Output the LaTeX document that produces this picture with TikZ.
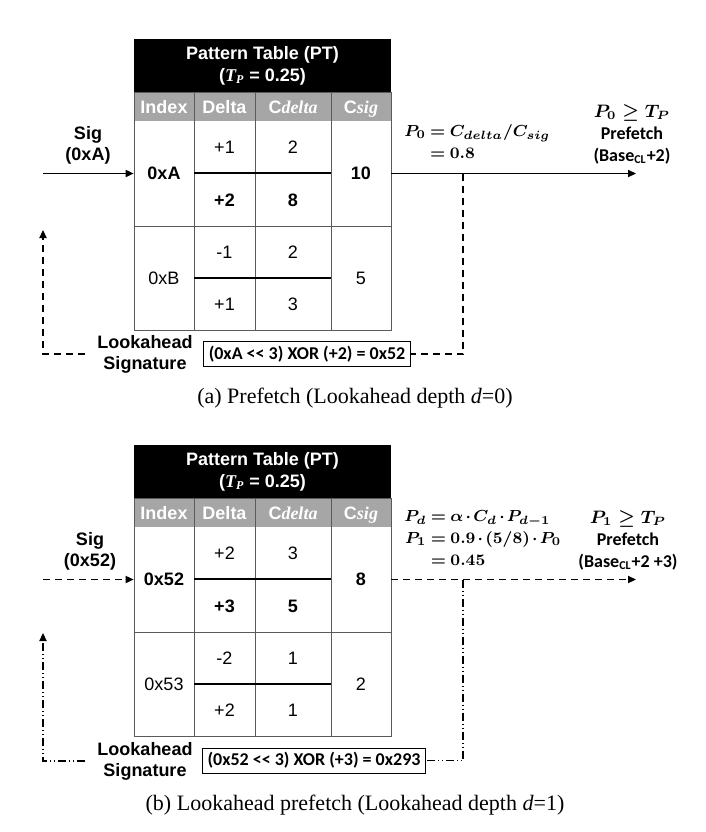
\documentclass[tikz,border=0pt]{standalone}
\usepackage{fontspec}
\usepackage{amsmath}
\setsansfont{Liberation Sans}
\newfontfamily\calfont{Carlito}
\newfontfamily\capfont{Liberation Serif}
\usetikzlibrary{arrows.meta,positioning,calc}
\definecolor{hdgray}{RGB}{166,166,166}
\definecolor{gridcol}{RGB}{90,90,90}
\newcommand{\tp}{{\capfont\itshape T\textsubscript{P}}}
\newcommand{\formfont}{\fontsize{8}{9}\selectfont\boldmath
  \jot=2pt\relax\medmuskip=2mu\relax\thickmuskip=4mu\relax}
% frame and header of one pattern table, #1 = name prefix
\newcommand{\ptframe}[1]{%
  \fill (134,39) rectangle (391,92);
  \fill[hdgray] (134,92) rectangle (391,121);
  \foreach \x in {194,255,331} \draw[gridcol] (\x,92) -- (\x,330);
  \draw[gridcol] (134,92) rectangle (391,330) (134,226) -- (391,226);
  \draw[line width=0.6pt] (194,173) -- (331,173) (194,278) -- (331,278);
  \node[ttl] (#1-ttl) at (262.5,66) {Pattern Table (PT)\\(\tp{} = 0.25)};
  \node[hdr] (#1-hi) at (164,113.5) {Index};
  \node[hdr] (#1-hd) at (224.5,113.5) {Delta};
  \node[hdr] (#1-hc) at (293,113.5) {C{\capfont\itshape delta}};
  \node[hdr] (#1-hs) at (361,113.5) {C{\capfont\itshape sig}};
}

\begin{document}
\begin{tikzpicture}[
  x=0.5pt, y=-0.5pt,
  ttl/.style={font=\sffamily\bfseries\small, text=white, align=center, inner sep=0pt},
  hdr/.style={font=\sffamily\bfseries\small, text=white, inner sep=0pt, anchor=base},
  cell/.style={font=\sffamily\small, inner sep=0pt, minimum width=30pt},
  hot/.style={cell, font=\sffamily\bfseries\small},
  lbl/.style={font=\sffamily\bfseries\fontsize{9}{10.5}\selectfont, align=center, inner sep=0pt},
  sigbox/.style={draw, line width=0.5pt, font=\calfont\bfseries\small,
                 inner xsep=2.5pt, inner ysep=0pt, minimum height=12.5pt},
  pf/.style={font=\calfont\bfseries\small\boldmath, align=center, inner sep=0pt},
  form/.style={font=\formfont, inner sep=0pt, anchor=west},
  capt/.style={font=\capfont\fontsize{11}{13}\selectfont, inner sep=0pt},
  ar/.style={-{Triangle[length=4pt,width=3.6pt]}, line width=0.65pt},
  lp/.style={line width=0.6pt},
  dsh/.style={dash pattern=on 3.5pt off 2.5pt},
  ddot/.style={dash pattern=on 4pt off 1.5pt on 0.5pt off 1.5pt on 0.5pt off 1.5pt},
]
  \useasboundingbox (0,0) rectangle (706,832);

  % (a) prefetch
  \ptframe{a}
  \node[hot]  (a-idx1) at (164,173.5) {0xA};
  \node[cell] (a-d11)  at (224.5,147) {+1};
  \node[cell] (a-c11)  at (293,147)   {2};
  \node[hot]  (a-d12)  at (224.5,200) {+2};
  \node[hot]  (a-c12)  at (293,200)   {8};
  \node[hot]  (a-s1)   at (361,173.5) {10};
  \node[cell] (a-idx2) at (164,278)   {0xB};
  \node[cell] (a-d21)  at (224.5,252) {-1};
  \node[cell] (a-c21)  at (293,252)   {2};
  \node[cell] (a-d22)  at (224.5,304) {+1};
  \node[cell] (a-c22)  at (293,304)   {3};
  \node[cell] (a-s2)   at (361,278)   {5};

  \node[lbl] (a-sig) at (88,145) {Sig\\(0xA)};
  \node[form] (a-form) at (404,144)
    {$\begin{aligned}P_0 &= C_{delta}/C_{sig}\\ &= 0.8\end{aligned}$};
  \node[pf] (a-pf) at (632,134) {$P_0 \geq T_P$\\Prefetch\\(Base\textsubscript{CL}+2)};
  \node[lbl, inner xsep=6pt] (a-look) at (145,354) {Lookahead\\Signature};
  \node[sigbox] (a-box) at (307,354) {(0xA << 3) XOR (+2) = 0x52};
  \node[capt] (a-cap) at (355,398) {(a) Prefetch (Lookahead depth \textit{d}=0)};

  \coordinate (a-in)  at (43,173.5);
  \coordinate (a-out) at (636,173.5);
  \coordinate (a-tap) at (463,173.5);
  \coordinate (a-up)  at (43,230);
  \draw[ar] (a-in) -- (a-idx1.west);
  \draw[ar] (a-s1.east) -- (a-out);
  \draw[lp, dsh] (a-tap) |- (a-box.east);
  \draw[ar, dsh] (a-look.west) -| (a-up);

  % (b) lookahead prefetch
  \begin{scope}[yshift=-203pt]
  \ptframe{b}
  \node[hot]  (b-idx1) at (164,173.5) {0x52};
  \node[cell] (b-d11)  at (224.5,147) {+2};
  \node[cell] (b-c11)  at (293,147)   {3};
  \node[hot]  (b-d12)  at (224.5,200) {+3};
  \node[hot]  (b-c12)  at (293,200)   {5};
  \node[hot]  (b-s1)   at (361,173.5) {8};
  \node[cell] (b-idx2) at (164,278)   {0x53};
  \node[cell] (b-d21)  at (224.5,252) {-2};
  \node[cell] (b-c21)  at (293,252)   {1};
  \node[cell] (b-d22)  at (224.5,304) {+2};
  \node[cell] (b-c22)  at (293,304)   {1};
  \node[cell] (b-s2)   at (361,278)   {2};

  \node[lbl] (b-sig) at (90,145.5) {Sig\\(0x52)};
  \node[form] (b-form) at (404,134)
    {$\begin{aligned}P_d &= \alpha\cdot C_d\cdot P_{d-1}\\
      P_1 &= 0.9\cdot(5/8)\cdot P_0\\ &= 0.45\end{aligned}$};
  \node[pf] (b-pf) at (628,134) {$P_1 \geq T_P$\\Prefetch\\(Base\textsubscript{CL}+2 +3)};
  \node[lbl, inner xsep=6pt] (b-look) at (145,355) {Lookahead\\Signature};
  \node[sigbox] (b-box) at (314,354.5) {(0x52 << 3) XOR (+3) = 0x293};
  \node[capt] (b-cap) at (355,399) {(b) Lookahead prefetch (Lookahead depth \textit{d}=1)};

  \coordinate (b-in)  at (43,173.5);
  \coordinate (b-out) at (636,173.5);
  \coordinate (b-tap) at (463,173.5);
  \coordinate (b-up)  at (43,227);
  \draw[ar, dsh] (b-in) -- (b-idx1.west);
  \draw[ar, dsh] (b-s1.east) -- (b-out);
  \draw[lp, ddot] (b-tap) |- (b-box.east);
  \draw[ar, ddot] (b-look.west) -| (b-up);
  \end{scope}
\end{tikzpicture}
\end{document}
